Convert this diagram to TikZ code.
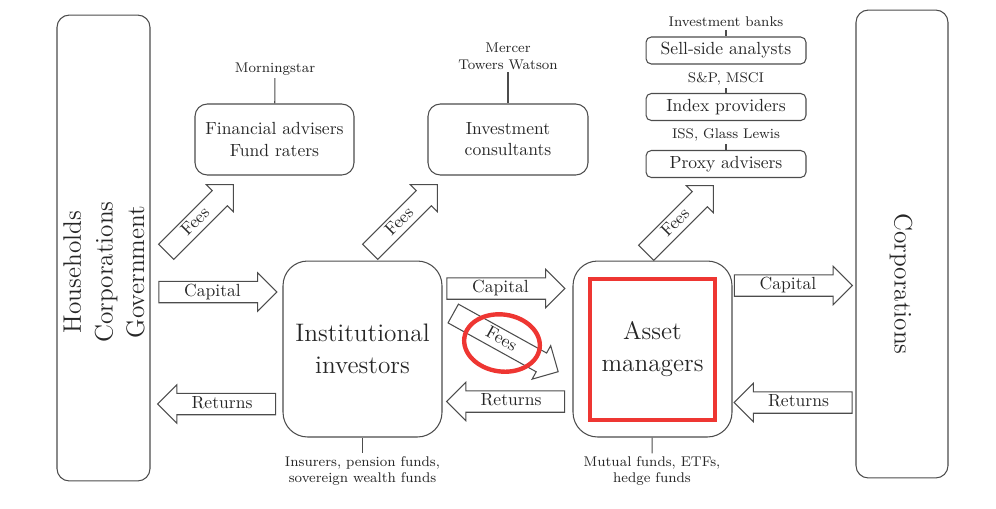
\documentclass[tikz,border=0pt]{standalone}
\usepackage{tikz}
\usetikzlibrary{shapes.arrows,positioning}
\definecolor{markred}{RGB}{238,54,50}

\begin{document}
\begin{tikzpicture}[x=0.02cm, y=-0.02cm]
\tikzstyle{every node}=[text=black!85]
\tikzstyle{frame}=[draw=black!70, line width=0.6pt, rounded corners=7pt]
\tikzstyle{big}=[frame, rounded corners=14pt, minimum width=3.18cm,
                 minimum height=3.52cm, font=\Large, align=center]
\tikzstyle{small}=[frame, rounded corners=3pt, minimum width=3.2cm,
                   minimum height=0.54cm, inner sep=1pt]
\tikzstyle{lbl}=[font=\footnotesize, align=center, inner sep=1.5pt]
\tikzstyle{flow}=[single arrow, draw=black!70, line width=0.6pt,
                  minimum height=2.36cm, single arrow head extend=4.8pt,
                  inner ysep=1.3pt, inner xsep=2pt, text height=7pt, text depth=2pt]
\tikzstyle{back}=[flow, shape border rotate=180]
\useasboundingbox (0,0) rectangle (996,508);

% sectors
\node[frame, minimum width=1.86cm, minimum height=9.32cm] (HH) at (103.5,248) {};
\node[rotate=90, font=\Large, align=center] (HHt) at (104,272) {Households\\Corporations\\Government};
\node[frame, minimum width=1.84cm, minimum height=9.36cm] (CO) at (902,244) {};
\node[rotate=-90, font=\Large] (COt) at (901,284) {Corporations};

% intermediaries
\node[big] (II) at (362.5,349) {Institutional\\investors};
\node[big] (AM) at (652.5,349) {Asset\\managers};
\node[frame, minimum width=3.18cm, minimum height=1.42cm, align=center] (FA) at (274.5,139.5) {Financial advisers\\Fund raters};
\node[frame, minimum width=3.2cm, minimum height=1.42cm, align=center] (IC) at (508,139.5) {Investment\\consultants};
\node[small] (SS) at (726,50.5) {Sell-side analysts};
\node[small] (IP) at (726,107) {Index providers};
\node[small] (PA) at (726,164) {Proxy advisers};

% examples
\node[lbl] (MS) at (275,69) {Morningstar};
\node[lbl] (MT) at (508,56) {Mercer\\Towers Watson};
\node[lbl] (IB) at (726,22) {Investment banks};
\node[lbl] (SP) at (726,79) {S\&P, MSCI};
\node[lbl] (GL) at (726,135) {ISS, Glass Lewis};
\node[lbl] (IN) at (362.5,471) {Insurers, pension funds,\\sovereign wealth funds};
\node[lbl] (MF) at (652,471) {Mutual funds, ETFs,\\hedge funds};
\foreach \i/\j in {MS/FA,MT/IC,IB/SS,SP/IP,GL/PA,II/IN,AM/MF}{\draw[black!70, line width=0.6pt] (\i) -- (\j);}

% flows
\node[flow] (c1) at (212.5,292) {Capital};
\node[back] (r1) at (222,404) {Returns};
\node[flow] (c2) at (500.5,288.5) {Capital};
\node[back] (r2) at (511,401.5) {Returns};
\node[flow] (c3) at (788,285.5) {Capital};
\node[back] (r3) at (798.5,402.5) {Returns};
\node[flow, rotate=45, minimum height=1.9cm] (f1) at (196,222) {Fees};
\node[flow, rotate=45, minimum height=1.9cm] (f2) at (400,222) {Fees};
\node[flow, rotate=45, minimum height=1.9cm] (f3) at (676,223) {Fees};
\node[flow, rotate=-29, minimum height=2.4cm] (f4) at (501,340) {Fees};

% marks
\draw[markred, line width=2.3pt] (590,279) rectangle (715,420);
\draw[markred, line width=2.5pt, rotate around={-8:(502,343)}] (502,343) ellipse [x radius=0.76cm, y radius=0.57cm];

\end{tikzpicture}
\end{document}
